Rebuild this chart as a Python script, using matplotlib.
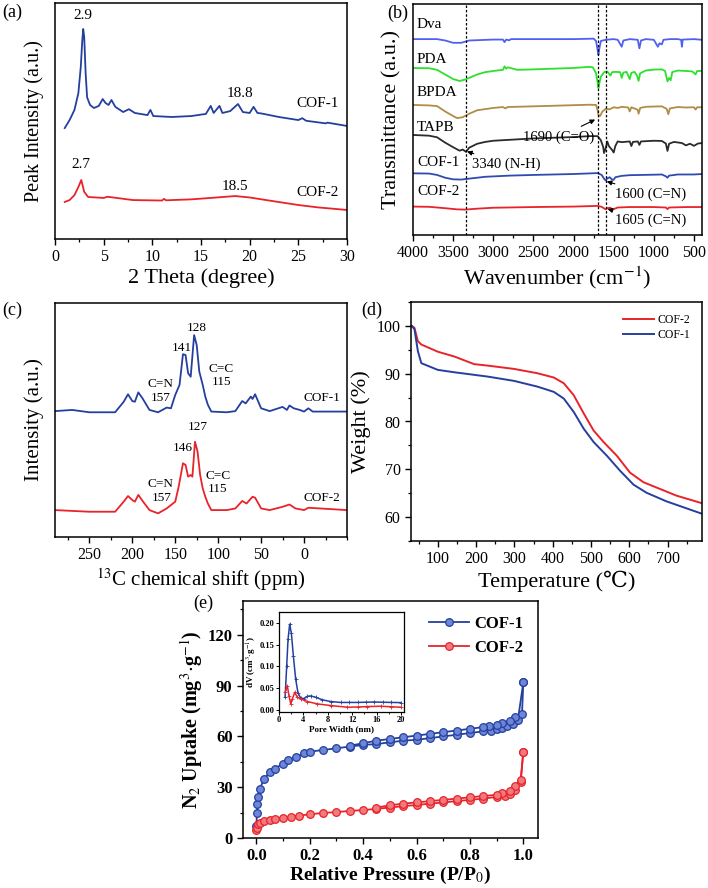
import numpy as np
import matplotlib
matplotlib.use("Agg")
from matplotlib import pyplot as plt
from matplotlib.ticker import MultipleLocator

plt.rcParams['font.family'] = ['Liberation Serif', 'DejaVu Serif']
plt.rcParams['mathtext.fontset'] = 'stix'

# ---------------- data ----------------
# (a) PXRD
xrd_x1 = [1.0, 1.5, 2.0, 2.4, 2.65, 2.8, 2.9, 3.0, 3.15, 3.3, 3.6, 4.0, 4.5, 4.9, 5.2, 5.5, 5.8, 6.2,
          7.0, 7.6, 8.2, 9.5, 9.8, 10.1, 12.0, 14.0, 15.5, 16.0, 16.3, 16.9, 17.2, 18.0, 18.8, 19.3,
          20.0, 20.4, 20.8, 21.2, 23.0, 25.0, 25.4, 25.8, 27.8, 28.0, 30.0]
xrd_y1 = [47, 50.4, 54.7, 61.8, 73, 84, 89, 85.6, 70, 60, 56.8, 55.5, 56.4, 59.3, 57.6, 56.8, 58.9, 56,
          53.8, 55, 53.4, 52.5, 54.7, 52.1, 51.7, 52.1, 53, 56.4, 53.4, 56.4, 53.4, 54.2, 57.2, 53.8,
          53.4, 56, 53.4, 53.2, 51.7, 50.4, 51.2, 50.1, 49, 49.3, 47.9]
xrd_x2 = [1.0, 1.5, 2.0, 2.4, 2.7, 3.0, 3.4, 5.0, 5.4, 8.0, 11.0, 11.2, 11.4, 14.0, 16.0, 18.5, 20.0,
          22.0, 25.0, 27.0, 30.0]
xrd_y2 = [15.7, 16.5, 18.6, 22, 25, 20, 17.8, 17.4, 17.9, 16.5, 16.3, 17.0, 16.4, 16.8, 17.4, 18.2, 17.6,
          16.3, 14.4, 13.4, 12.3]

# (b) FT-IR
ir_labels = ['Dva', 'PDA', 'BPDA', 'TAPB', 'COF-1', 'COF-2']
ir_colors = ['#5060f0', '#2ee02e', '#b08c46', '#2b2b2b', '#2f4bb0', '#e8232a']
ir_wn = [
    [4000, 3700, 3600, 3500, 3400, 3300, 3000, 2880, 2860, 2840, 2800, 2780, 2000, 1750, 1720, 1700, 1690,
     1680, 1660, 1600, 1500, 1450, 1400, 1380, 1300, 1200, 1180, 1160, 1100, 1000, 950, 930, 900, 880,
     800, 700, 660, 650, 640, 500, 400],
    [4000, 3800, 3700, 3600, 3500, 3420, 3350, 3200, 3100, 3000, 2880, 2860, 2840, 2820, 2700, 2500,
     2000, 1800, 1760, 1720, 1700, 1690, 1680, 1660, 1620, 1580, 1540, 1520, 1480, 1420, 1400, 1380,
     1340, 1300, 1280, 1240, 1210, 1190, 1170, 1100, 1000, 900, 860, 840, 830, 810, 790, 770, 700, 600,
     520, 480, 460, 400],
    [4000, 3800, 3700, 3600, 3500, 3450, 3380, 3300, 3200, 3000, 2880, 2850, 2820, 2500, 2000, 1800,
     1720, 1700, 1690, 1670, 1640, 1600, 1550, 1500, 1450, 1400, 1320, 1300, 1280, 1200, 1190, 1170,
     1100, 900, 840, 820, 800, 700, 600, 500, 480, 460, 400],
    [4000, 3800, 3700, 3600, 3500, 3420, 3380, 3340, 3300, 3200, 3100, 3000, 2800, 2500, 2000, 1800,
     1700, 1660, 1630, 1620, 1600, 1580, 1560, 1520, 1500, 1480, 1450, 1400, 1300, 1280, 1260, 1200,
     1180, 1160, 1000, 900, 850, 830, 810, 750, 650, 600, 550, 500, 450, 400],
    [4000, 3800, 3700, 3600, 3500, 3400, 3300, 3100, 2800, 2500, 2000, 1700, 1650, 1620, 1600, 1580,
     1550, 1520, 1500, 1480, 1400, 1300, 1000, 900, 850, 830, 810, 700, 500, 400],
    [4000, 3800, 3600, 3450, 3350, 3200, 3000, 2500, 2000, 1700, 1650, 1600, 1580, 1540, 1520, 1500,
     1450, 1300, 1000, 850, 830, 810, 600, 400],
]
ir_t = [
    [84.8, 84.8, 84.2, 83.2, 83.2, 84.2, 84.6, 84.6, 83.5, 84.6, 84.3, 84.8, 84.8, 85, 84, 80, 78,
     80.5, 84, 84.5, 84.8, 84.5, 81.5, 84.2, 84.8, 84.5, 80.8, 84.2, 84.8, 84.5, 81.5, 83, 82.5, 84.5,
     84.8, 84.8, 84.5, 81.5, 84.6, 84.8, 84.5],
    [72.3, 72.2, 71.5, 69.5, 67.5, 66.7, 67.3, 69.5, 70.5, 71, 71.5, 73, 72, 72.6, 71.5, 71.7,
     72.3, 72.8, 72.6, 70, 66, 63.6, 65.5, 68.5, 70.5, 70.8, 69, 70.5, 70.6, 70.5, 68, 70.3,
     70.6, 67.5, 70.2, 70.6, 69, 66.7, 70, 71.2, 71.6, 71.7, 71, 68, 66.5, 68, 67, 70.5, 71.2, 71,
     70.8, 69.5, 71, 71],
    [56.3, 56.1, 55.8, 53.5, 51.5, 50.6, 51, 52.5, 54, 55, 55.4, 54.8, 55.4, 55.7, 56.2, 56.4,
     56.3, 54, 52, 51.5, 53.5, 54.6, 54.4, 55.3, 55, 55.5, 55.2, 53.5, 55.3, 54.2, 52.5, 55,
     55.5, 55.7, 54.6, 52.3, 54.8, 55.4, 55.2, 55.3, 54.3, 55.3, 55.3],
    [43.3, 43, 42.3, 40, 38, 36.5, 37, 36, 37.8, 39.5, 40.3, 40.8, 41.2, 41.8, 42.4, 42.8,
     42.8, 41, 38, 35.5, 37.5, 40.5, 38.5, 36.8, 35.7, 38.5, 40.5, 40.2, 40.5, 38.5, 40.3, 40.5,
     39, 40.5, 40.8, 40.7, 39.6, 36.4, 39.5, 40.3, 39.8, 38.8, 39.5, 38.6, 39.6, 39.8],
    [26.7, 26.6, 26, 24.8, 24.1, 24, 24.4, 25.2, 25.7, 26, 26.4, 26.8, 26, 24.4, 23.6, 24.5,
     25, 24, 23.9, 25, 25.6, 25.9, 26.1, 26.2, 25.4, 24.8, 25.7, 26.2, 26.2, 26.4],
    [12.3, 12.2, 11.6, 11.1, 11, 11.4, 11.8, 12.1, 12.3, 12.6, 12.2, 11.1, 11.6, 11.8, 10.8, 11.2,
     11.9, 12.1, 12.1, 11.9, 11.2, 11.9, 12.1, 12.1],
]
ir_marks = [3340, 1690, 1600]

# (c) 13C NMR
nmr_x1 = [290, 270, 260, 250, 220, 210, 205, 200, 197, 193, 188, 180, 170, 160, 155, 150, 145, 141, 138,
          135, 132, 128, 125, 122, 118, 115, 112, 108, 90, 80, 72, 68, 62, 60, 57, 50, 40, 25, 20, 17,
          12, 5, 0, -5, -10, -50]
nmr_y1 = [53.8, 54.3, 53.8, 53.3, 53.3, 57.8, 61, 58.1, 57.8, 61.8, 59.2, 54.3, 53.3, 55.3, 55, 60.7,
          65, 78.1, 77.8, 70, 68.5, 86.3, 82, 70.7, 65, 60, 56.5, 53.6, 53.3, 53.8, 58.1, 57.1, 60, 59,
          61, 55, 53.8, 55.6, 54.3, 56.2, 55, 54.3, 53.6, 55, 53.6, 53.6]
nmr_x2 = [290, 250, 220, 210, 205, 200, 197, 193, 188, 180, 170, 160, 150, 146, 141, 138, 135, 132, 130,
          127, 124, 121, 118, 115, 112, 108, 90, 80, 72, 67, 60, 57, 50, 40, 25, 17, 10, 0, -5, -50]
nmr_y2 = [11.5, 10.8, 10.8, 15.1, 17.5, 15.8, 15.1, 18, 15.4, 11.5, 10.1, 12.2, 15.1, 21.5, 31.5, 30.8,
          25.8, 26.5, 25.8, 40.7, 36.5, 26.5, 20.8, 17.2, 14.3, 11.5, 11.5, 12.2, 15.4, 14.3, 17.2, 16.8,
          12.2, 11.5, 12.9, 13.9, 12.2, 11.5, 12.5, 11.5]

# (d) TGA
tga_t2 = [32, 39, 48, 57, 100, 143, 195, 230, 299, 360, 403, 429, 455, 481, 507, 533, 568, 602, 637,
          680, 723, 790]
tga_w2 = [100, 99.6, 96.8, 96.1, 94.6, 93.6, 92, 91.7, 91, 90.1, 89.2, 88, 85.5, 81.7, 78.1, 75.7,
          72.8, 69.3, 67.3, 65.9, 64.5, 62.9]
tga_t1 = [32, 39, 48, 57, 100, 143, 230, 299, 360, 403, 429, 455, 481, 507, 542, 576, 611, 645, 697, 790]
tga_w1 = [100, 99.3, 94.7, 92.2, 90.8, 90.3, 89.4, 88.5, 87.3, 86.2, 84.8, 82, 78.5, 75.7, 72.8, 69.7,
          66.8, 65.1, 63.3, 60.7]

# (e) N2 isotherms
p1_ads = [0.0005, 0.002, 0.004, 0.007, 0.012, 0.03, 0.05, 0.07, 0.1, 0.12, 0.15, 0.18, 0.2, 0.25, 0.3,
          0.35, 0.4, 0.45, 0.5, 0.55, 0.6, 0.65, 0.7, 0.75, 0.8, 0.85, 0.88, 0.9, 0.92, 0.94, 0.96,
          0.98, 1.0]
v1_ads = [7, 15, 20, 24, 29, 35, 39, 41, 44, 46, 48, 50, 51, 52, 53, 54, 55, 55.5, 56.5, 57.5, 58, 59,
          60, 61, 62, 63, 63.5, 64.5, 65, 66, 67.5, 70, 92]
p1_des = [1.0, 0.995, 0.97, 0.95, 0.92, 0.9, 0.87, 0.85, 0.8, 0.75, 0.7, 0.65, 0.6, 0.55, 0.5, 0.45,
          0.4, 0.35]
v1_des = [92, 73, 71.5, 69, 68, 67, 66, 65.5, 64.5, 63.5, 62.5, 61.5, 60.5, 59.5, 58.5, 57.5, 56, 54.5]
p2_ads = [0.0005, 0.002, 0.006, 0.015, 0.03, 0.05, 0.07, 0.1, 0.13, 0.16, 0.2, 0.25, 0.3, 0.35, 0.4,
          0.45, 0.5, 0.55, 0.6, 0.65, 0.7, 0.75, 0.8, 0.85, 0.9, 0.93, 0.95, 0.97, 0.99, 1.0]
v2_ads = [4.5, 6, 8, 9, 10, 10.6, 11.2, 11.8, 12.5, 13.2, 14, 14.8, 15.3, 16, 16.5, 17.2, 18, 18.8,
          19.5, 20.3, 21, 21.8, 22.5, 23.3, 24.2, 25, 26, 28.5, 33, 51]
p2_des = [1.0, 0.99, 0.97, 0.95, 0.92, 0.9, 0.85, 0.8, 0.75, 0.7, 0.65, 0.6, 0.55, 0.5, 0.45]
v2_des = [51, 34, 30.5, 28, 26.5, 25.5, 24.8, 24, 23.3, 22.5, 21.8, 21, 20.3, 19.3, 18]

# (e) inset pore size distribution
pw1 = [1.0, 1.26, 1.48, 1.75, 2.03, 2.36, 2.74, 3.12, 3.56, 4.1, 4.66, 5.2, 6.0, 7.1, 8.5, 10.1, 11.5,
       12.9, 14.2, 15.6, 17.0, 18.4, 20.0]
dv1 = [0.029, 0.10, 0.162, 0.197, 0.176, 0.123, 0.070, 0.0385, 0.027, 0.026, 0.031, 0.032, 0.029,
       0.023, 0.019, 0.017, 0.017, 0.017, 0.0175, 0.018, 0.0175, 0.017, 0.0166]
pw2 = [1.0, 1.37, 1.64, 1.92, 2.19, 2.58, 3.0, 3.56, 4.66, 6.3, 8.5, 11.2, 12.9, 14.5, 16.7, 18.4, 20.0]
dv2 = [0.040, 0.055, 0.032, 0.014, 0.025, 0.040, 0.029, 0.025, 0.019, 0.0136, 0.0098, 0.006, 0.0065,
       0.0075, 0.0083, 0.007, 0.006]

BLUE = '#24409e'
RED = '#e8232a'

W, H = 708, 888
fig = plt.figure(figsize=(W / 100, H / 100), dpi=100)


def box(l, r, t, b):
    return [l / W, 1 - b / H, (r - l) / W, (b - t) / H]


def style(ax, lw=1.1):
    for s in ax.spines.values():
        s.set_linewidth(lw)
    ax.tick_params(which='major', direction='out', length=4, width=1.0, labelsize=11.5)
    ax.tick_params(which='minor', direction='out', length=2.5, width=0.9)
    ax.tick_params(top=False, right=False)


# ---- (a)
ax = fig.add_axes(box(55, 347, 3, 239))
ax.plot(xrd_x1, xrd_y1, color=BLUE, lw=1.3)
ax.plot(xrd_x2, xrd_y2, color=RED, lw=1.3)
ax.set_xlim(0, 30)
ax.set_ylim(0, 100)
ax.set_yticks([])
ax.xaxis.set_major_locator(MultipleLocator(5))
ax.xaxis.set_minor_locator(MultipleLocator(2.5))
style(ax)
ax.set_xlabel('2 Theta (degree)', fontsize=16, labelpad=2)
ax.set_ylabel('Peak Intensity (a.u.)', fontsize=14.5, labelpad=8)
ax.text(2.9, 92, '2.9', ha='center', va='bottom', fontsize=11)
ax.text(19.0, 59, '18.8', ha='center', va='bottom', fontsize=11)
ax.text(27.0, 57.5, 'COF-1', ha='center', va='center', fontsize=11)
ax.text(2.7, 29, '2.7', ha='center', va='bottom', fontsize=11)
ax.text(18.5, 19.5, '18.5', ha='center', va='bottom', fontsize=11)
ax.text(27.0, 19.5, 'COF-2', ha='center', va='center', fontsize=11)
fig.text(2 / W, 1 - 12 / H, '(a)', fontsize=13, va='center')

# ---- (b)
ax = fig.add_axes(box(413, 702, 4, 235))
for wn, t, c in zip(ir_wn, ir_t, ir_colors):
    ax.plot(wn, t, color=c, lw=1.3)
for m in ir_marks:
    ax.axvline(m, color='black', lw=0.9, ls=(0, (2, 1.5)))
ax.set_xlim(4000, 400)
ax.set_ylim(0, 100)
ax.set_yticks([])
ax.xaxis.set_major_locator(MultipleLocator(500))
ax.xaxis.set_minor_locator(MultipleLocator(250))
style(ax)
ax.set_xlabel('Wavenumber (cm$^{-1}$)', fontsize=16, labelpad=2)
ax.set_ylabel('Transmittance (a.u.)', fontsize=16, labelpad=8)
for lab, yy in zip(ir_labels, [91, 76, 61.5, 46.5, 31.2, 18.8]):
    ax.text(3950, yy, lab, ha='left', va='center', fontsize=11)
arr = dict(arrowstyle='-|>', color='black', lw=0.8, mutation_scale=7)
ax.annotate('1690 (C=O)', xy=(1700, 50.5), xytext=(2180, 42.4), ha='center', va='center',
            fontsize=10.5, arrowprops=arr)
ax.annotate('3340 (N-H)', xy=(3360, 36.5), xytext=(2840, 30.7), ha='center', va='center',
            fontsize=10.5, arrowprops=arr)
ax.annotate('1600 (C=N)', xy=(1620, 23.5), xytext=(1040, 17.7), ha='center', va='center',
            fontsize=10.5, arrowprops=arr)
ax.annotate('1605 (C=N)', xy=(1610, 11.5), xytext=(1040, 6.5), ha='center', va='center',
            fontsize=10.5, arrowprops=arr)
fig.text(387 / W, 1 - 13 / H, '(b)', fontsize=13, va='center')

# ---- (c)
ax = fig.add_axes(box(55, 347, 303, 537))
ax.plot(nmr_x1, nmr_y1, color=BLUE, lw=1.3)
ax.plot(nmr_x2, nmr_y2, color=RED, lw=1.3)
ax.set_xlim(290, -50)
ax.set_ylim(0, 100)
ax.set_yticks([])
ax.set_xticks([250, 200, 150, 100, 50, 0])
ax.xaxis.set_minor_locator(MultipleLocator(25))
style(ax)
ax.set_xlabel('$^{13}$C chemical shift (ppm)', fontsize=15, labelpad=2)
ax.set_ylabel('Intensity (a.u.)', fontsize=15, labelpad=8)
fs = 9.5
ax.text(125, 89.5, '128', ha='center', va='center', fontsize=fs)
ax.text(142, 80.8, '141', ha='center', va='center', fontsize=fs)
ax.text(96, 72.0, 'C=C', ha='center', va='center', fontsize=fs)
ax.text(96, 66.3, '115', ha='center', va='center', fontsize=fs)
ax.text(167, 65.3, 'C=N', ha='center', va='center', fontsize=fs)
ax.text(167, 59.2, '157', ha='center', va='center', fontsize=fs)
ax.text(-21, 59.4, 'COF-1', ha='center', va='center', fontsize=9.5)
ax.text(124, 47, '127', ha='center', va='center', fontsize=fs)
ax.text(141, 38, '146', ha='center', va='center', fontsize=fs)
ax.text(100, 26.0, 'C=C', ha='center', va='center', fontsize=fs)
ax.text(101, 20.3, '115', ha='center', va='center', fontsize=fs)
ax.text(167, 22.6, 'C=N', ha='center', va='center', fontsize=fs)
ax.text(166, 16.8, '157', ha='center', va='center', fontsize=fs)
ax.text(-21, 16.7, 'COF-2', ha='center', va='center', fontsize=9.5)
fig.text(2 / W, 1 - 310 / H, '(c)', fontsize=13, va='center')

# ---- (d)
ax = fig.add_axes(box(411, 702, 302, 541))
ax.plot(tga_t2, tga_w2, color=RED, lw=1.4, label='COF-2')
ax.plot(tga_t1, tga_w1, color=BLUE, lw=1.4, label='COF-1')
ax.set_xlim(30, 790)
ax.set_ylim(55, 105)
ax.set_xticks([100, 200, 300, 400, 500, 600, 700])
ax.xaxis.set_minor_locator(MultipleLocator(50))
ax.set_yticks([60, 70, 80, 90, 100])
ax.yaxis.set_minor_locator(MultipleLocator(5))
style(ax)
ax.set_xlabel('Temperature (\u2103)', fontsize=16, labelpad=2)
ax.set_ylabel('Weight (%)', fontsize=16, labelpad=4)
ax.legend(loc='upper right', frameon=False, fontsize=8.5, handlelength=2.6,
          borderaxespad=0.6, labelspacing=0.25, handletextpad=0.3)
fig.text(361 / W, 1 - 310 / H, '(d)', fontsize=13, va='center')

# ---- (e)
ax = fig.add_axes(box(243, 538, 601, 838))
mk1 = dict(color=BLUE, lw=1.3, marker='o', ms=5.5, mfc='#6d86d8', mec=BLUE, mew=0.9)
mk2 = dict(color=RED, lw=1.3, marker='o', ms=5.5, mfc='#f07a7e', mec=RED, mew=0.9)
ax.plot(p1_ads, v1_ads, label='COF-1', **mk1)
ax.plot(p1_des, v1_des, **mk1)
ax.plot(p2_ads, v2_ads, label='COF-2', **mk2)
ax.plot(p2_des, v2_des, **mk2)
ax.set_xlim(-0.05, 1.055)
ax.set_ylim(0, 140)
ax.set_xticks([0.0, 0.2, 0.4, 0.6, 0.8, 1.0])
ax.xaxis.set_minor_locator(MultipleLocator(0.1))
ax.set_yticks([0, 30, 60, 90, 120])
ax.yaxis.set_minor_locator(MultipleLocator(15))
style(ax)
ax.tick_params(labelsize=12)
for lab in ax.get_xticklabels() + ax.get_yticklabels():
    lab.set_fontweight('bold')
ax.set_xlabel('Relative Pressure (P/P$_0$)', fontsize=14, fontweight='bold', labelpad=0)
ax.set_ylabel('N$_2$ Uptake (mg$^3$$\\cdot$g$^{-1}$)', fontsize=14.5, fontweight='bold', labelpad=2)
ax.legend(loc='upper right', frameon=False, prop={'size': 12, 'weight': 'bold'},
          handlelength=2.4, borderaxespad=0.5, labelspacing=0.5, handletextpad=0.3)
fig.text(193 / W, 1 - 603 / H, '(e)', fontsize=13, va='center')

ins = fig.add_axes(box(279, 404, 612, 712))
ins.plot(pw1, dv1, color=BLUE, lw=1.1, marker='+', ms=2.5, mew=0.6)
ins.plot(pw2, dv2, color=RED, lw=1.1, marker='+', ms=2.5, mew=0.6)
ins.set_xlim(0, 20.5)
ins.set_ylim(-0.005, 0.225)
ins.set_xticks([0, 4, 8, 12, 16, 20])
ins.set_yticks([0.0, 0.05, 0.10, 0.15, 0.20])
ins.yaxis.set_major_formatter(matplotlib.ticker.FormatStrFormatter('%.2f'))
for s in ins.spines.values():
    s.set_linewidth(0.9)
ins.tick_params(direction='out', length=2, width=0.7, labelsize=6, pad=1)
ins.xaxis.set_minor_locator(MultipleLocator(2))
ins.tick_params(which='minor', direction='out', length=1.2, width=0.6)
for lab in ins.get_xticklabels() + ins.get_yticklabels():
    lab.set_fontweight('bold')
ins.set_xlabel('Pore Width (nm)', fontsize=6.5, fontweight='bold', labelpad=1)
ins.set_ylabel('dV (cm$^3$$\\cdot$g$^{-1}$)', fontsize=6.5, fontweight='bold', labelpad=1)

fig.savefig('out.png', dpi=100)
